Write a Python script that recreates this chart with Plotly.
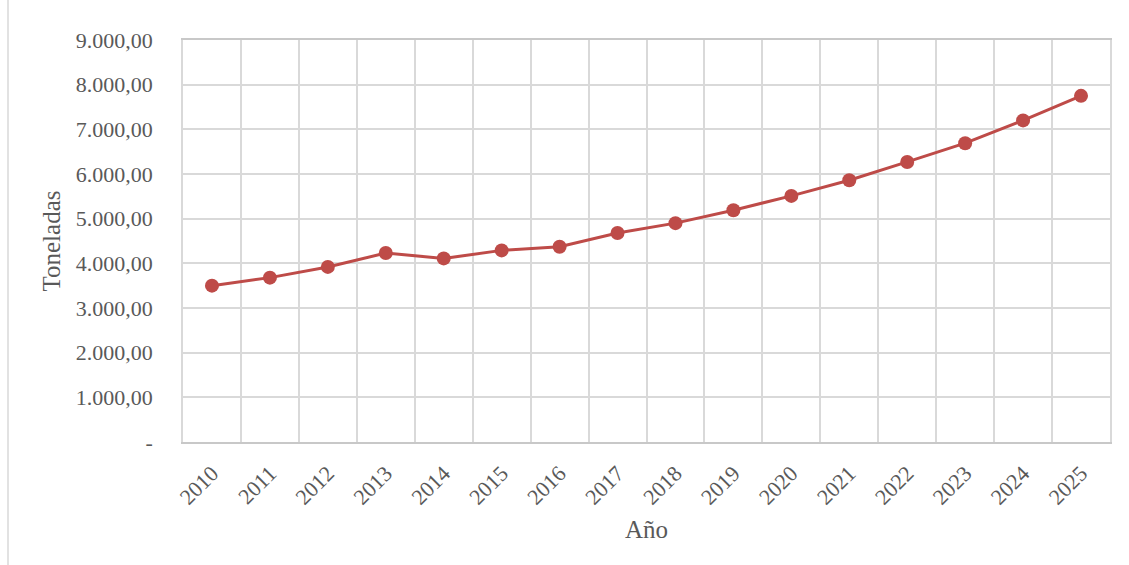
import plotly.graph_objects as go

years = ["2010", "2011", "2012", "2013", "2014", "2015", "2016", "2017",
         "2018", "2019", "2020", "2021", "2022", "2023", "2024", "2025"]
toneladas = [3500, 3680, 3920, 4230, 4110, 4290, 4370, 4680,
             4900, 5190, 5510, 5860, 6270, 6690, 7200, 7750]
y_tickvals = [0, 1000, 2000, 3000, 4000, 5000, 6000, 7000, 8000, 9000]
y_ticktext = ["-", "1.000,00", "2.000,00", "3.000,00", "4.000,00", "5.000,00",
              "6.000,00", "7.000,00", "8.000,00", "9.000,00"]

font_family = "Liberation Serif"
grid = "#d9d9d9"

fig = go.Figure()
fig.add_trace(go.Scatter(
    x=years, y=toneladas, mode="lines+markers",
    line=dict(color="#BE4B48", width=3),
    marker=dict(color="#BE4B48", size=14),
    showlegend=False,
))

fig.update_layout(
    width=1129, height=565,
    margin=dict(l=183, r=19, t=40, b=123),
    paper_bgcolor="white", plot_bgcolor="white",
    font=dict(family=font_family, size=22, color="#595959"),
    xaxis=dict(
        type="category", tickson="boundaries", tickangle=-45,
        range=[-0.5, len(years) - 0.5], autorange=False,
        showgrid=True, gridcolor=grid, gridwidth=1.5,
        showline=True, linecolor="#c8c8c8", linewidth=1.5, mirror=True,
        ticks="", ticklabelstandoff=8, tickfont=dict(size=22, color="#595959"),
        title=dict(text="Año", font=dict(size=25, color="#595959"), standoff=12),
    ),
    yaxis=dict(
        range=[0, 9000], tickvals=y_tickvals, ticktext=y_ticktext,
        showgrid=True, gridcolor=grid, gridwidth=1.5, zeroline=False,
        showline=True, linecolor="#d9d9d9", linewidth=1.5, mirror=True,
        ticks="", ticklabelstandoff=24, tickfont=dict(size=22, color="#595959"),
        title=dict(text="Toneladas", font=dict(size=25, color="#595959"), standoff=8),
    ),
    shapes=[dict(type="line", xref="paper", yref="paper",
                 x0=-175/927, x1=-175/927, y0=-123/402, y1=40/402 + 1,
                 line=dict(color="#d9d9d9", width=1.5))],
)

fig.write_html("out.html")
